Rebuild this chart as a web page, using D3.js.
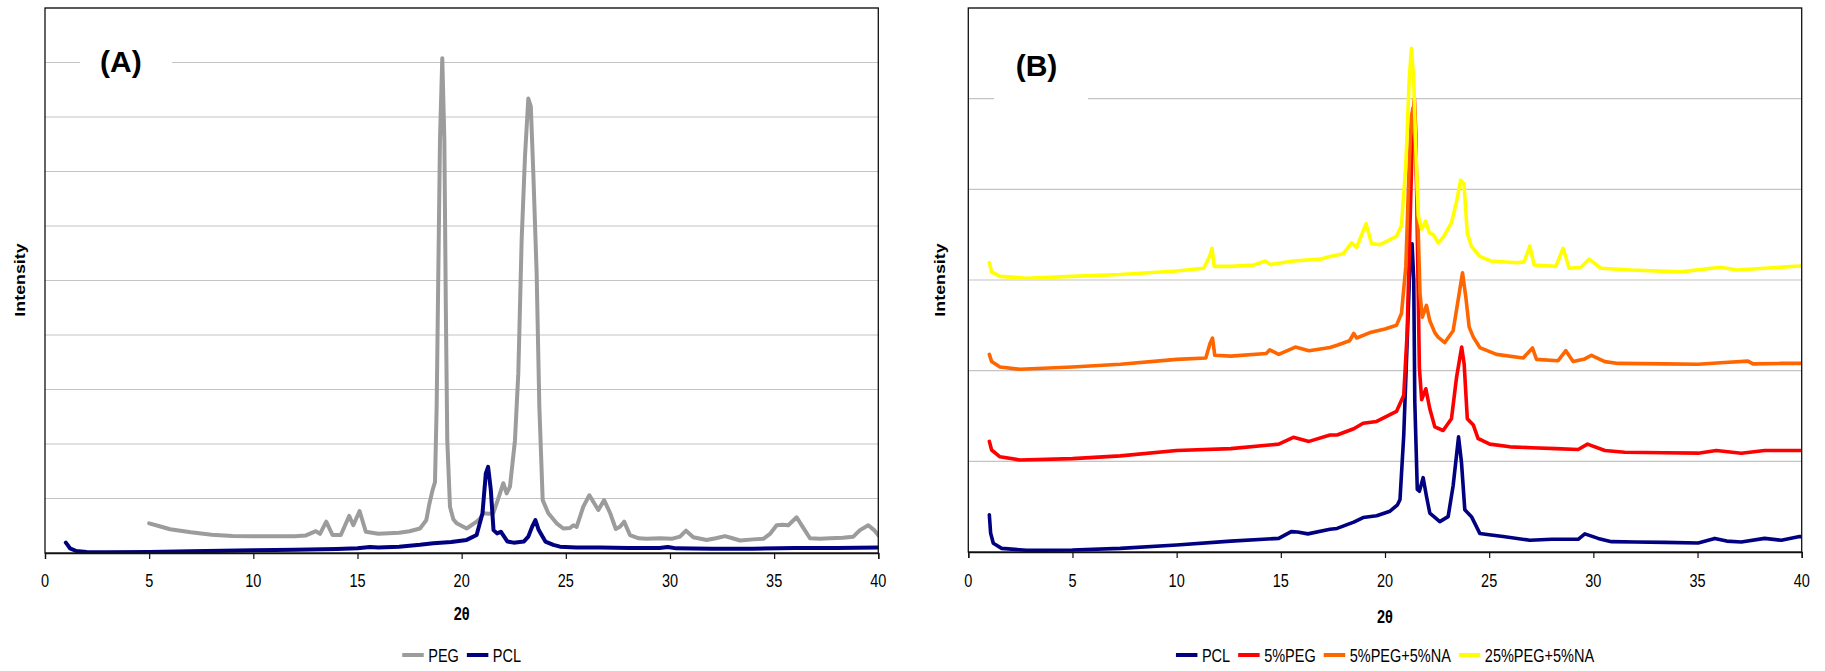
<!DOCTYPE html>
<html>
<head>
<meta charset="utf-8">
<script src="https://cdn.jsdelivr.net/npm/d3@7"></script>
<style>
  html, body { margin: 0; padding: 0; background: #fff; }
  svg { display: block; }
  text { font-family: "Liberation Sans", Arial, sans-serif; fill: #000; }
</style>
</head>
<body>
<div id="chart"></div>
<script>
// ---------------- DATA ----------------
const xTicks = [0, 5, 10, 15, 20, 25, 30, 35, 40];
const xTitle = "2θ";
const yTitle = "Intensity";

const seriesNamesA = ["PEG", "PCL"];
const seriesNamesB = ["PCL", "5%PEG", "5%PEG+5%NA", "25%PEG+5%NA"];

// Panel (A): PEG
const pegA = [[5.0,0.545],[5.5,0.49],[6,0.435],[7,0.38],[8,0.336],[9,0.312],[10,0.306],[11,0.306],[12,0.306],[12.5,0.32],[13.0,0.40],[13.2,0.35],[13.5,0.575],[13.8,0.33],[14.2,0.33],[14.6,0.68],[14.8,0.51],[15.1,0.77],[15.4,0.39],[16,0.355],[17,0.37],[17.5,0.40],[18.0,0.45],[18.3,0.6],[18.45,0.9],[18.6,1.15],[18.72,1.3],[18.8,2.68],[18.88,5.14],[18.96,7.58],[19.07,9.08],[19.17,7.58],[19.24,4.52],[19.31,2.07],[19.44,0.85],[19.6,0.62],[19.76,0.545],[20.24,0.45],[20.72,0.575],[20.9,0.64],[21.04,0.73],[21.3,0.72],[21.52,0.73],[21.84,1.095],[22.0,1.28],[22.16,1.095],[22.32,1.22],[22.56,2.07],[22.72,3.30],[22.88,5.74],[23.04,7.27],[23.2,8.34],[23.32,8.19],[23.44,6.97],[23.6,5.13],[23.73,2.68],[23.89,0.97],[24.16,0.73],[24.56,0.545],[24.88,0.45],[25.2,0.46],[25.36,0.51],[25.52,0.48],[25.84,0.85],[26.13,1.06],[26.56,0.79],[26.84,0.97],[27.13,0.73],[27.4,0.44],[27.6,0.48],[27.8,0.575],[28.08,0.33],[28.5,0.27],[28.88,0.26],[29.52,0.27],[30.08,0.26],[30.48,0.30],[30.77,0.41],[31.12,0.29],[31.76,0.24],[32.2,0.27],[32.64,0.31],[33.0,0.27],[33.36,0.23],[34.0,0.25],[34.48,0.26],[34.8,0.35],[35.12,0.51],[35.4,0.52],[35.68,0.51],[36.08,0.655],[36.37,0.48],[36.72,0.27],[37.2,0.26],[37.68,0.27],[38.3,0.28],[38.8,0.30],[39.12,0.42],[39.52,0.51],[39.8,0.42],[40,0.325]];

// Panel (A): PCL
const pclA = [[1.0,0.19],[1.1,0.14],[1.2,0.086],[1.5,0.037],[2,0.02],[3,0.013],[5,0.02],[7,0.03],[10,0.05],[12,0.06],[14,0.075],[15,0.086],[15.6,0.11],[16,0.1],[17,0.116],[18,0.15],[18.64,0.178],[19.5,0.2],[20.24,0.24],[20.72,0.33],[21.0,0.73],[21.16,1.46],[21.27,1.58],[21.4,1.16],[21.53,0.42],[21.7,0.36],[21.88,0.39],[22.2,0.21],[22.5,0.19],[22.98,0.21],[23.2,0.3],[23.38,0.48],[23.54,0.605],[23.7,0.42],[24.02,0.21],[24.4,0.15],[24.72,0.116],[25.5,0.10],[26.64,0.10],[28,0.09],[29.5,0.09],[29.9,0.11],[30.3,0.085],[32,0.08],[34,0.08],[36,0.09],[38,0.09],[40,0.1]];

// Panel (B)
const pclB = [[1.01,0.41],[1.07,0.21],[1.2,0.096],[1.6,0.04],[2.8,0.019],[5,0.022],[7.3,0.04],[10,0.077],[12.6,0.12],[14.9,0.15],[15.5,0.225],[15.8,0.22],[16.3,0.20],[17.36,0.25],[17.7,0.26],[18.5,0.33],[18.95,0.38],[19.6,0.40],[20.24,0.45],[20.6,0.52],[20.72,0.58],[20.9,1.29],[21.06,2.3],[21.2,3.2],[21.3,3.4],[21.38,3.0],[21.43,1.66],[21.55,0.69],[21.65,0.67],[21.83,0.82],[21.99,0.615],[22.15,0.43],[22.63,0.335],[23.03,0.39],[23.27,0.73],[23.53,1.27],[23.67,0.99],[23.83,0.466],[24.15,0.39],[24.55,0.205],[25.0,0.19],[25.67,0.17],[26.95,0.13],[28,0.14],[29.27,0.14],[29.59,0.20],[30.23,0.15],[30.87,0.114],[32,0.11],[33.43,0.106],[35.03,0.10],[35.83,0.15],[36.4,0.12],[37.1,0.11],[38.22,0.15],[39.02,0.13],[39.9,0.17],[40,0.17]];

const peg5B = [[1.01,1.22],[1.12,1.125],[1.52,1.05],[2.48,1.015],[5,1.03],[7.3,1.06],[10,1.12],[12.6,1.14],[14.9,1.19],[15.6,1.265],[16.35,1.22],[17.36,1.29],[17.7,1.29],[18.5,1.36],[18.95,1.42],[19.6,1.44],[20.55,1.55],[20.9,1.73],[21.06,2.40],[21.19,3.52],[21.32,4.64],[21.41,5.0],[21.48,4.6],[21.55,3.52],[21.65,2.03],[21.76,1.68],[21.96,1.80],[22.15,1.58],[22.39,1.38],[22.79,1.34],[23.19,1.47],[23.43,1.92],[23.68,2.26],[23.8,2.07],[23.95,1.47],[24.24,1.40],[24.47,1.25],[24.63,1.235],[25.03,1.19],[26,1.16],[27.03,1.15],[28.2,1.14],[29.27,1.13],[29.72,1.19],[30.55,1.12],[31.5,1.10],[33.43,1.095],[35.03,1.09],[35.9,1.12],[37.1,1.09],[38.22,1.12],[39.9,1.12],[40,1.12]];

const peg5na5B = [[1.01,2.18],[1.12,2.10],[1.52,2.04],[2.48,2.015],[5,2.04],[7.3,2.07],[10,2.125],[11.4,2.14],[11.6,2.30],[11.72,2.36],[11.83,2.17],[12.6,2.16],[14.3,2.19],[14.47,2.23],[14.9,2.18],[15.7,2.26],[16.35,2.22],[17.36,2.255],[17.7,2.28],[18.3,2.33],[18.5,2.41],[18.64,2.36],[19.28,2.42],[20.0,2.46],[20.55,2.50],[20.79,2.63],[21.0,3.15],[21.16,4.27],[21.27,4.8],[21.34,4.9],[21.45,4.5],[21.55,3.90],[21.68,2.85],[21.79,2.59],[21.99,2.72],[22.15,2.55],[22.39,2.42],[22.55,2.37],[22.87,2.31],[23.27,2.44],[23.51,2.78],[23.72,3.08],[23.88,2.81],[24.04,2.48],[24.24,2.37],[24.55,2.255],[25.35,2.18],[26.63,2.14],[27.08,2.25],[27.27,2.125],[28.31,2.11],[28.68,2.22],[29.03,2.10],[29.59,2.13],[29.91,2.17],[30.55,2.10],[31.19,2.08],[33.43,2.075],[35.03,2.07],[36.3,2.09],[37.42,2.105],[37.66,2.075],[39.02,2.08],[39.9,2.08],[40,2.085]];

const peg25na5B = [[1.01,3.19],[1.12,3.09],[1.52,3.04],[2.8,3.02],[5,3.04],[7.3,3.06],[10,3.10],[11.3,3.13],[11.58,3.26],[11.7,3.35],[11.8,3.15],[12.6,3.15],[13.7,3.165],[14.26,3.21],[14.5,3.17],[15.6,3.21],[16.9,3.23],[17.36,3.26],[18.0,3.29],[18.4,3.41],[18.64,3.36],[19.09,3.62],[19.36,3.40],[19.76,3.39],[20.55,3.48],[20.79,3.60],[21.0,4.27],[21.16,5.20],[21.27,5.555],[21.38,5.20],[21.48,4.45],[21.6,3.71],[21.76,3.56],[21.95,3.65],[22.13,3.52],[22.32,3.50],[22.55,3.41],[22.79,3.47],[23.19,3.63],[23.43,3.86],[23.63,4.10],[23.79,4.06],[23.95,3.52],[24.15,3.37],[24.55,3.26],[25.08,3.21],[26.31,3.19],[26.68,3.20],[26.95,3.375],[27.16,3.165],[28.2,3.15],[28.55,3.35],[28.84,3.13],[29.4,3.14],[29.8,3.23],[30.36,3.13],[31.8,3.11],[34.2,3.09],[36.1,3.14],[36.9,3.11],[38.2,3.13],[39.9,3.155],[40,3.16]];

const colorsA = ["#9c9c9c", "#000080"];
const colorsB = ["#000080", "#FF0000", "#FF6600", "#FFFF00"];

// ---------------- LAYOUT ----------------
const W = 1825, H = 671;
const K = 1.23; // vertical stretch of the original text
const FS = 14.5;

const svg = d3.select("#chart").append("svg")
  .attr("width", W).attr("height", H)
  .attr("viewBox", `0 0 ${W} ${H}`);
svg.append("rect").attr("width", W).attr("height", H).attr("fill", "#fff");

function stext(g, x, y, str, o = {}) {
  const t = g.append("text")
    .attr("transform", `translate(${x},${y}) scale(1,${K})` + (o.rotate ? " rotate(-90)" : ""))
    .attr("font-size", o.size || FS)
    .attr("font-weight", o.bold ? "bold" : "normal")
    .attr("text-anchor", o.anchor || "start")
    .text(str);
  return t;
}

function panel(cfg) {
  const g = svg.append("g");
  const x = d3.scaleLinear().domain([0, 40]).range([cfg.left, cfg.right]);
  const y = d3.scaleLinear().domain([0, cfg.yMax]).range([cfg.bottom, cfg.top]);

  // gridlines
  g.append("g").selectAll("line").data(d3.range(1, cfg.yMax + 1))
    .join("line")
    .attr("x1", cfg.left).attr("x2", cfg.right)
    .attr("y1", d => y(d)).attr("y2", d => y(d))
    .attr("stroke", "#c4c4c4").attr("stroke-width", 1.2);

  // label box
  g.append("rect")
    .attr("x", cfg.box[0]).attr("y", cfg.box[1])
    .attr("width", cfg.box[2]).attr("height", cfg.box[3])
    .attr("fill", "#fff");

  const id = "clip" + cfg.label.replace(/\W/g, "");
  svg.append("clipPath").attr("id", id).append("rect")
    .attr("x", cfg.left).attr("y", cfg.top)
    .attr("width", cfg.right - cfg.left).attr("height", cfg.bottom - cfg.top);

  const line = d3.line().x(d => x(d[0])).y(d => y(d[1]));
  const lg = g.append("g").attr("clip-path", `url(#${id})`);
  cfg.series.forEach((s, i) => {
    lg.append("path").datum(s)
      .attr("d", line)
      .attr("fill", "none")
      .attr("stroke", cfg.colors[i])
      .attr("stroke-width", cfg.lw)
      .attr("stroke-linejoin", "round")
      .attr("stroke-linecap", "round");
  });

  // frame
  g.append("rect")
    .attr("x", cfg.left).attr("y", cfg.top)
    .attr("width", cfg.right - cfg.left).attr("height", cfg.bottom - cfg.top)
    .attr("fill", "none").attr("stroke", "#111").attr("stroke-width", 1.3);

  // x axis
  const ax = g.append("g").attr("transform", `translate(0,${cfg.bottom})`)
    .call(d3.axisBottom(x).tickValues(xTicks).tickSize(6).tickFormat(""));
  ax.select(".domain").attr("stroke", "#111").attr("stroke-width", 1.3);
  ax.selectAll(".tick line").attr("stroke", "#111").attr("stroke-width", 1.2);
  xTicks.forEach(t => stext(g, x(t), 587, String(t), { anchor: "middle" }));

  // titles
  stext(g, (cfg.left + cfg.right) / 2, cfg.xTitleY, xTitle, { anchor: "middle", bold: true });
  stext(g, cfg.yTitleX, 280, yTitle, { anchor: "middle", bold: true, rotate: true });

  // panel label
  g.append("text")
    .attr("x", cfg.labelPos[0]).attr("y", cfg.labelPos[1])
    .attr("font-size", 30).attr("font-weight", "bold")
    .text(cfg.label);

  // legend
  const leg = g.append("g");
  let cx = 0;
  cfg.names.forEach((n, i) => {
    const it = leg.append("g");
    it.append("line").attr("x1", 0).attr("x2", 21.5)
      .attr("y1", 655).attr("y2", 655)
      .attr("stroke", cfg.colors[i]).attr("stroke-width", 4);
    const t = stext(it, 26, 661.7, n);
    const w = t.node().getComputedTextLength();
    it.attr("transform", `translate(${cx},0)`);
    cx += 26 + w + 8;
  });
  const total = cx - 8;
  leg.attr("transform", `translate(${(cfg.left + cfg.right) / 2 - total / 2},0)`);
}

panel({
  left: 45, right: 878.3, top: 8, bottom: 553, yMax: 10,
  series: [pegA, pclA], colors: colorsA, names: seriesNamesA,
  lw: 4, label: "(A)", labelPos: [100, 71.5], box: [80, 40, 92, 45],
  xTitleY: 620, yTitleX: 25.4
});

panel({
  left: 968.3, right: 1801.7, top: 8, bottom: 552, yMax: 6,
  series: [pclB, peg5B, peg5na5B, peg25na5B], colors: colorsB, names: seriesNamesB,
  lw: 3.6, label: "(B)", labelPos: [1015.7, 76], box: [994, 45, 94, 55],
  xTitleY: 622.5, yTitleX: 945.4
});
</script>
</body>
</html>
